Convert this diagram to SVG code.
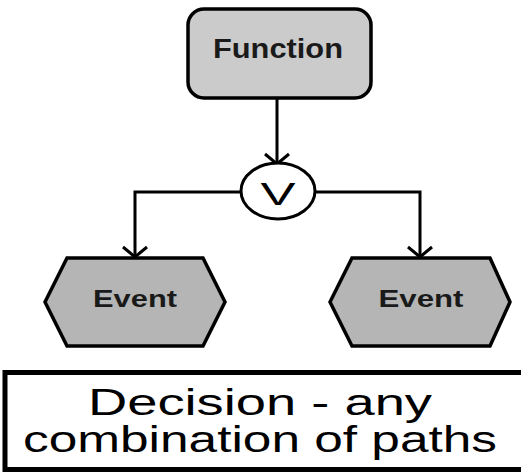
<svg xmlns="http://www.w3.org/2000/svg" width="521" height="473" viewBox="0 0 521 473">
<style>
.edge{fill:none;stroke:#000;stroke-width:3}
.lbl{font-family:"Liberation Sans",Arial,sans-serif;font-weight:bold;fill:#1a1a1a;text-anchor:middle}
.cap{font-family:"Liberation Sans",Arial,sans-serif;fill:#000;text-anchor:middle}
.event{fill:#b5b5b5;stroke:#000;stroke-width:3.5;stroke-linejoin:miter}
</style>
<defs>
<marker id="arr" markerUnits="userSpaceOnUse" viewBox="-14 -14 16 28" refX="0" refY="0" markerWidth="16" markerHeight="28" orient="auto">
<path d="M-10,-12 L0,0 L-10,12" fill="none" stroke="#000" stroke-width="3"/>
</marker>
</defs>
<rect width="521" height="473" fill="#fff"/>
<g id="connectors">
<path class="edge" d="M277,98 V164" marker-end="url(#arr)"/>
<path class="edge" d="M241,192 H135 V257" marker-end="url(#arr)"/>
<path class="edge" d="M315,192 H420 V257" marker-end="url(#arr)"/>
</g>
<g id="function">
<rect x="188" y="9" width="183" height="89" rx="16" ry="16" fill="#cbcbcb" stroke="#000" stroke-width="3.5"/>
<text class="lbl" x="278" y="58" font-size="28" textLength="130" lengthAdjust="spacingAndGlyphs">Function</text>
</g>
<g id="or">
<ellipse cx="278" cy="191" rx="37" ry="28" fill="#fff" stroke="#000" stroke-width="3"/>
<text x="278" y="205" font-family="Liberation Sans,Arial,sans-serif" font-size="32" text-anchor="middle" textLength="35" lengthAdjust="spacingAndGlyphs">V</text>
</g>
<g id="event1">
<polygon class="event" points="45,302 67,258 203,258 225,302 203,346 67,346"/>
<text class="lbl" x="135" y="307" font-size="23" textLength="84" lengthAdjust="spacingAndGlyphs">Event</text>
</g>
<g id="event2">
<polygon class="event" points="330,302 352,258 490,258 510,302 490,346 352,346"/>
<text class="lbl" x="421" y="307" font-size="23" textLength="85" lengthAdjust="spacingAndGlyphs">Event</text>
</g>
<g id="caption">
<rect x="5" y="372.5" width="530" height="97" fill="#fff" stroke="#000" stroke-width="5"/>
<text class="cap" x="260" y="415" font-size="37" textLength="344" lengthAdjust="spacingAndGlyphs">Decision - any</text>
<text class="cap" x="260" y="452" font-size="37" textLength="474" lengthAdjust="spacingAndGlyphs">combination of paths</text>
</g>
</svg>
